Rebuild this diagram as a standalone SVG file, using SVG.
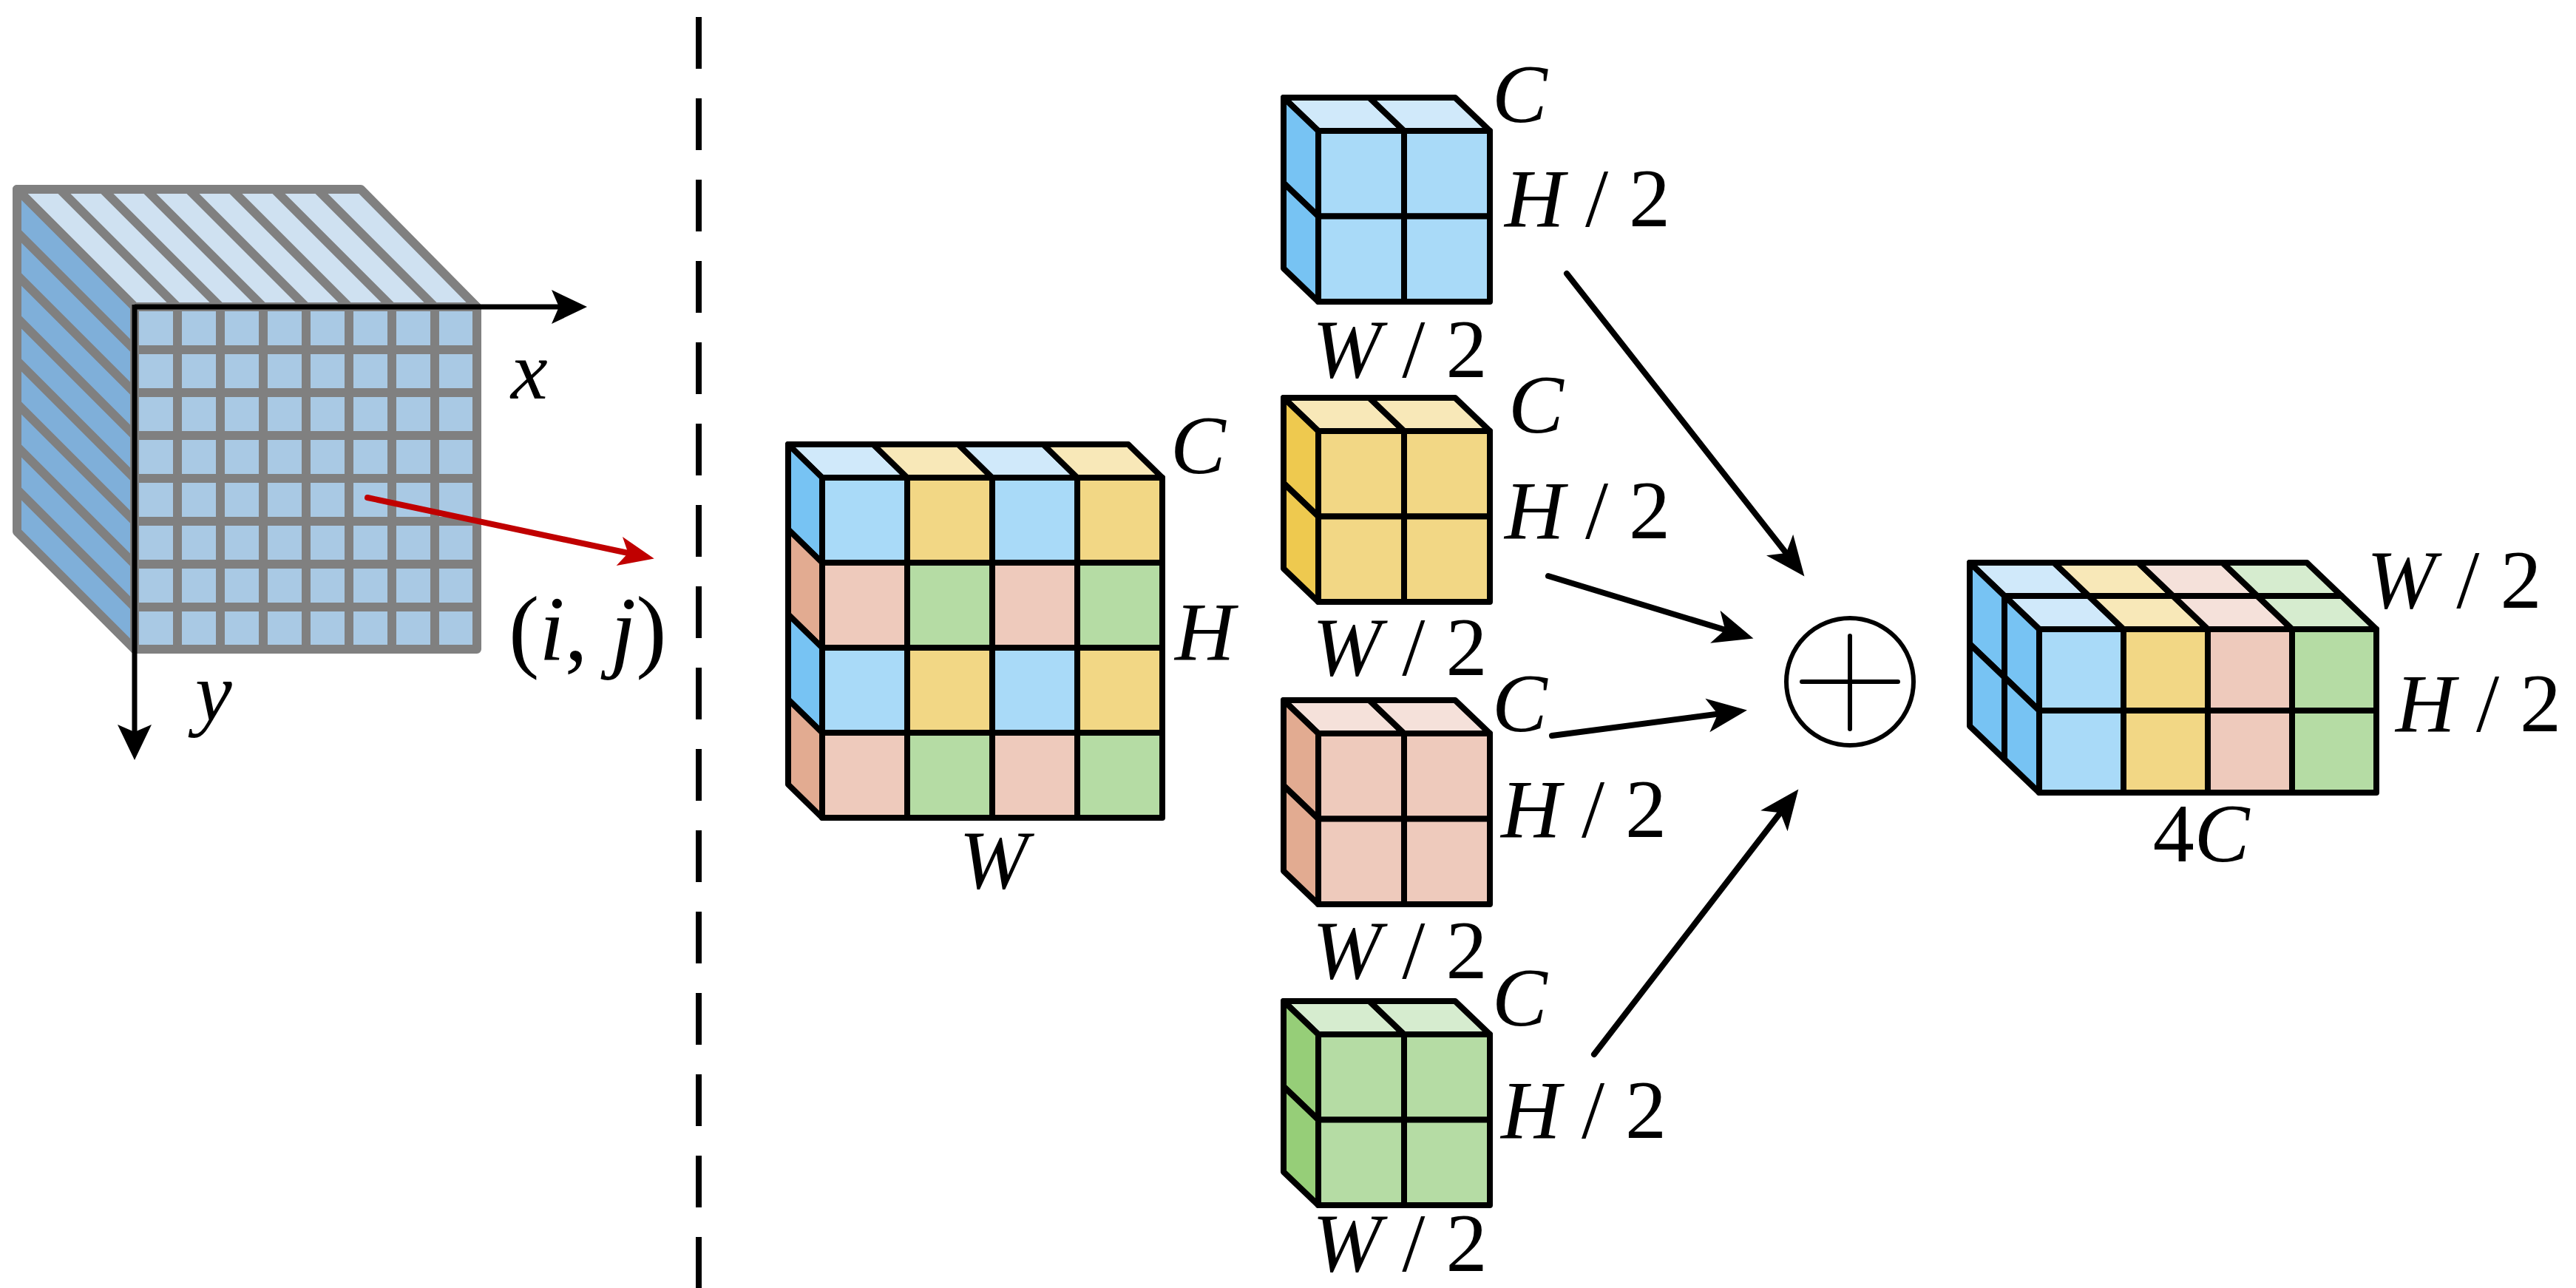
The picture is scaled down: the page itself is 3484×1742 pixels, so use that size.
<svg xmlns="http://www.w3.org/2000/svg" width="3484" height="1742" viewBox="0 0 3484 1742" font-family="'Liberation Serif', 'Times New Roman', Times, 'DejaVu Serif', serif">
<defs>
<style>
.g{stroke:#808080;stroke-width:12;stroke-linejoin:round;stroke-linecap:round}
.k{stroke:#000;stroke-width:8;stroke-linejoin:round}
.bf{fill:#A9DAF8}.bt{fill:#D0E9FA}.bl{fill:#77C3F3}
.yf{fill:#F2D785}.yt{fill:#F8E8B8}.yl{fill:#EEC94F}
.pf{fill:#EECABC}.pt{fill:#F5E1DA}.pl{fill:#E2AB91}
.gf{fill:#B5DCA4}.gt{fill:#D6ECCF}.gl{fill:#96CE78}
text{font-family:'Liberation Serif','Times New Roman',Times,'DejaVu Serif',serif;font-size:112px;fill:#000}
.i{font-style:italic}
.arr{stroke:#000;stroke-width:8;fill:none;stroke-linecap:round}
</style>
<marker id="ah" markerUnits="userSpaceOnUse" markerWidth="80" markerHeight="60" refX="0" refY="0" viewBox="-60 -30 80 60" orient="auto" overflow="visible">
<path d="M12,0 L-42,-23 L-28,0 L-42,23 Z" fill="#000"/>
</marker>
<marker id="ahr" markerUnits="userSpaceOnUse" markerWidth="80" markerHeight="60" refX="0" refY="0" viewBox="-60 -30 80 60" orient="auto" overflow="visible">
<path d="M12,0 L-36,-20 L-24,0 L-36,20 Z" fill="#C00000"/>
</marker>
<marker id="ax" markerUnits="userSpaceOnUse" markerWidth="80" markerHeight="60" refX="0" refY="0" viewBox="-60 -30 80 60" orient="auto" overflow="visible">
<path d="M12,0 L-36,-23 L-26,0 L-36,23 Z" fill="#000"/>
</marker>
</defs>
<rect width="3484" height="1742" fill="#fff"/>

<g id="tensor-grid">
<polygon class="g" points="23,256 488,256 645,415 182,415" fill="#CFE1F1"/>
<polygon class="g" points="23,256 182,415 182,878 23,719" fill="#7FAFD9"/>
<rect class="g" x="182" y="415" width="463" height="463" fill="#A9C9E4"/>
<g class="g" fill="none">
<path d="M81,256L240,415M139,256L298,415M197,256L356,415M255,256L414,415M313,256L472,415M371,256L530,415M429,256L588,415"/>
<path d="M23,314L182,473M23,372L182,531M23,430L182,589M23,488L182,647M23,546L182,705M23,604L182,763M23,662L182,821"/>
<path d="M240,415V878M298,415V878M356,415V878M414,415V878M472,415V878M530,415V878M588,415V878"/>
<path d="M182,473H645M182,531H645M182,589H645M182,647H645M182,705H645M182,763H645M182,821H645"/>
</g>
<line x1="182" y1="415" x2="782" y2="415" stroke="#000" stroke-width="7" marker-end="url(#ax)"/>
<line x1="182" y1="412" x2="182" y2="1016" stroke="#000" stroke-width="7" marker-end="url(#ax)"/>
<line x1="497" y1="673" x2="873" y2="753" stroke="#C00000" stroke-width="8" stroke-linecap="round" marker-end="url(#ahr)"/>
<text class="i" x="691" y="539">x</text>
<text class="i" x="264" y="974">y</text>
<text x="688" y="893" style="font-size:124px">(<tspan class="i">i</tspan>, <tspan class="i">j</tspan>)</text>
</g>

<line id="divider" x1="945" y1="23" x2="945" y2="1742" stroke="#000" stroke-width="8" stroke-dasharray="70 40"/>

<g id="input-tensor" class="k">
<polygon class="bt" points="1112,646 1227,646 1181,601 1066,601"/>
<polygon class="yt" points="1227,646 1342,646 1296,601 1181,601"/>
<polygon class="bt" points="1342,646 1457,646 1411,601 1296,601"/>
<polygon class="yt" points="1457,646 1572,646 1526,601 1411,601"/>
<polygon class="bl" points="1112,646 1112,761 1066,716 1066,601"/>
<polygon class="pl" points="1112,761 1112,876 1066,831 1066,716"/>
<polygon class="bl" points="1112,876 1112,991 1066,946 1066,831"/>
<polygon class="pl" points="1112,991 1112,1106 1066,1061 1066,946"/>
<rect class="bf" x="1112" y="646" width="115" height="115"/><rect class="yf" x="1227" y="646" width="115" height="115"/><rect class="bf" x="1342" y="646" width="115" height="115"/><rect class="yf" x="1457" y="646" width="115" height="115"/>
<rect class="pf" x="1112" y="761" width="115" height="115"/><rect class="gf" x="1227" y="761" width="115" height="115"/><rect class="pf" x="1342" y="761" width="115" height="115"/><rect class="gf" x="1457" y="761" width="115" height="115"/>
<rect class="bf" x="1112" y="876" width="115" height="115"/><rect class="yf" x="1227" y="876" width="115" height="115"/><rect class="bf" x="1342" y="876" width="115" height="115"/><rect class="yf" x="1457" y="876" width="115" height="115"/>
<rect class="pf" x="1112" y="991" width="115" height="115"/><rect class="gf" x="1227" y="991" width="115" height="115"/><rect class="pf" x="1342" y="991" width="115" height="115"/><rect class="gf" x="1457" y="991" width="115" height="115"/>
</g>
<g id="input-labels">
<text class="i" x="1583" y="640">C</text>
<text class="i" x="1589" y="892">H</text>
<text class="i" x="1344" y="1201" text-anchor="middle">W</text>
</g>

<g id="sub-blue" class="k" transform="translate(1783,177)">
<polygon class="bt" points="0,0 116,0 69,-45 -47,-45"/><polygon class="bt" points="116,0 232,0 185,-45 69,-45"/>
<polygon class="bl" points="0,0 0,115.5 -47,70.5 -47,-45"/><polygon class="bl" points="0,115.5 0,231 -47,186 -47,70.5"/>
<rect class="bf" x="0" y="0" width="116" height="115.5"/><rect class="bf" x="116" y="0" width="116" height="115.5"/><rect class="bf" x="0" y="115.5" width="116" height="115.5"/><rect class="bf" x="116" y="115.5" width="116" height="115.5"/>
</g>
<g id="sub-yellow" class="k" transform="translate(1783,583)">
<polygon class="yt" points="0,0 116,0 69,-45 -47,-45"/><polygon class="yt" points="116,0 232,0 185,-45 69,-45"/>
<polygon class="yl" points="0,0 0,115.5 -47,70.5 -47,-45"/><polygon class="yl" points="0,115.5 0,231 -47,186 -47,70.5"/>
<rect class="yf" x="0" y="0" width="116" height="115.5"/><rect class="yf" x="116" y="0" width="116" height="115.5"/><rect class="yf" x="0" y="115.5" width="116" height="115.5"/><rect class="yf" x="116" y="115.5" width="116" height="115.5"/>
</g>
<g id="sub-pink" class="k" transform="translate(1783,992)">
<polygon class="pt" points="0,0 116,0 69,-45 -47,-45"/><polygon class="pt" points="116,0 232,0 185,-45 69,-45"/>
<polygon class="pl" points="0,0 0,115.5 -47,70.5 -47,-45"/><polygon class="pl" points="0,115.5 0,231 -47,186 -47,70.5"/>
<rect class="pf" x="0" y="0" width="116" height="115.5"/><rect class="pf" x="116" y="0" width="116" height="115.5"/><rect class="pf" x="0" y="115.5" width="116" height="115.5"/><rect class="pf" x="116" y="115.5" width="116" height="115.5"/>
</g>
<g id="sub-green" class="k" transform="translate(1783,1399)">
<polygon class="gt" points="0,0 116,0 69,-45 -47,-45"/><polygon class="gt" points="116,0 232,0 185,-45 69,-45"/>
<polygon class="gl" points="0,0 0,115.5 -47,70.5 -47,-45"/><polygon class="gl" points="0,115.5 0,231 -47,186 -47,70.5"/>
<rect class="gf" x="0" y="0" width="116" height="115.5"/><rect class="gf" x="116" y="0" width="116" height="115.5"/><rect class="gf" x="0" y="115.5" width="116" height="115.5"/><rect class="gf" x="116" y="115.5" width="116" height="115.5"/>
</g>
<g id="sub-labels">
<text class="i" x="2018" y="165">C</text>
<text x="2035" y="306" xml:space="preserve"><tspan class="i">H</tspan> / 2</text>
<text x="1775" y="510" xml:space="preserve"><tspan class="i">W</tspan> / 2</text>
<text class="i" x="2040" y="585">C</text>
<text x="2035" y="728" xml:space="preserve"><tspan class="i">H</tspan> / 2</text>
<text x="1775" y="913" xml:space="preserve"><tspan class="i">W</tspan> / 2</text>
<text class="i" x="2018" y="989">C</text>
<text x="2030" y="1132" xml:space="preserve"><tspan class="i">H</tspan> / 2</text>
<text x="1775" y="1323" xml:space="preserve"><tspan class="i">W</tspan> / 2</text>
<text class="i" x="2018" y="1387">C</text>
<text x="2030" y="1539" xml:space="preserve"><tspan class="i">H</tspan> / 2</text>
<text x="1775" y="1719" xml:space="preserve"><tspan class="i">W</tspan> / 2</text>
</g>

<g id="connectors" class="arr">
<line x1="2119" y1="370" x2="2433" y2="770" marker-end="url(#ah)"/>
<line x1="2094" y1="779" x2="2360" y2="860" marker-end="url(#ah)"/>
<line x1="2099" y1="995" x2="2351" y2="962" marker-end="url(#ah)"/>
<line x1="2156" y1="1426" x2="2425" y2="1077" marker-end="url(#ah)"/>
</g>

<g id="concat" fill="none" stroke="#000" stroke-width="6" stroke-linecap="round">
<circle cx="2502" cy="922" r="86"/>
<path d="M2437,922H2567M2502,860V986"/>
</g>

<g id="output-tensor" class="k">
<polygon class="bt" points="2711,806 2825,806 2778,761 2664,761"/>
<polygon class="yt" points="2825,806 2939,806 2892,761 2778,761"/>
<polygon class="pt" points="2939,806 3053,806 3006,761 2892,761"/>
<polygon class="gt" points="3053,806 3167,806 3120,761 3006,761"/>
<polygon class="bt" points="2758,851 2872,851 2825,806 2711,806"/>
<polygon class="yt" points="2872,851 2986,851 2939,806 2825,806"/>
<polygon class="pt" points="2986,851 3100,851 3053,806 2939,806"/>
<polygon class="gt" points="3100,851 3214,851 3167,806 3053,806"/>
<polygon class="bl" points="2711,806 2711,916 2664,871 2664,761"/>
<polygon class="bl" points="2711,916 2711,1027 2664,982 2664,871"/>
<polygon class="bl" points="2758,851 2758,961 2711,916 2711,806"/>
<polygon class="bl" points="2758,961 2758,1072 2711,1027 2711,916"/>
<rect class="bf" x="2758" y="851" width="114" height="110"/><rect class="yf" x="2872" y="851" width="114" height="110"/><rect class="pf" x="2986" y="851" width="114" height="110"/><rect class="gf" x="3100" y="851" width="114" height="110"/>
<rect class="bf" x="2758" y="961" width="114" height="111"/><rect class="yf" x="2872" y="961" width="114" height="111"/><rect class="pf" x="2986" y="961" width="114" height="111"/><rect class="gf" x="3100" y="961" width="114" height="111"/>
</g>
<g id="output-labels">
<text x="3201" y="822" xml:space="preserve"><tspan class="i">W</tspan> / 2</text>
<text x="3240" y="989" xml:space="preserve"><tspan class="i">H</tspan> / 2</text>
<text x="2977" y="1165" text-anchor="middle">4<tspan class="i">C</tspan></text>
</g>
</svg>
